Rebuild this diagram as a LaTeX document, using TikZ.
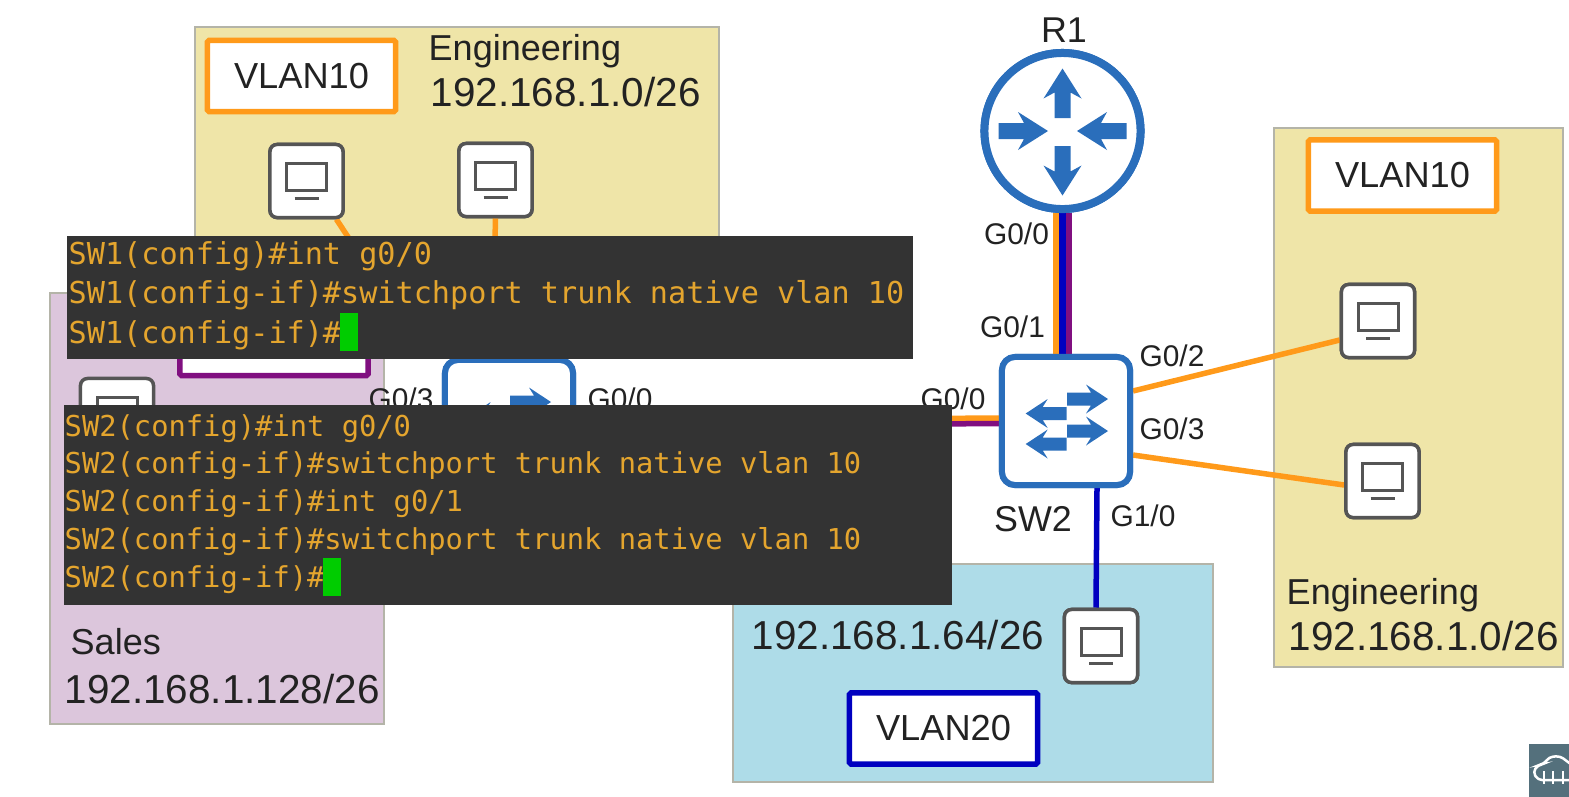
\documentclass[tikz,border=0pt]{standalone}
\usepackage{fontspec}
\setmainfont{Liberation Sans}
\setmonofont{DejaVu Sans Mono}
\definecolor{engyellow}{HTML}{EFE5A8}
\definecolor{salespink}{HTML}{DCC6DC}
\definecolor{devblue}{HTML}{AEDCE8}
\definecolor{zonegray}{HTML}{B4B4A8}
\definecolor{iconblue}{HTML}{2A6EBB}
\definecolor{pcgray}{HTML}{555555}
\definecolor{vorange}{HTML}{FF9A1A}
\definecolor{vpurple}{HTML}{800F80}
\definecolor{vblue}{HTML}{0000C0}
\definecolor{termgray}{HTML}{333333}
\definecolor{termtext}{HTML}{E4A52E}
\definecolor{logogray}{HTML}{54707C}
\definecolor{inktext}{HTML}{222222}
\tikzset{
  zone/.style={draw=zonegray, line width=0.02cm, anchor=north west, inner sep=0pt},
  vlanbox/.style={draw=#1, fill=white, line width=0.055cm, rounded corners=0.015cm, minimum width=1.88cm, minimum height=0.71cm, inner sep=0pt, text=inktext, font=\fontsize{10.3}{12}\selectfont},
  pcbox/.style={draw=pcgray, fill=white, line width=0.035cm, rounded corners=0.07cm, minimum size=0.73cm, inner sep=0pt,
    path picture={
      \draw[pcgray, sharp corners, line width=0.03cm] ([shift={(-20,-18)}]path picture bounding box.center) rectangle ([shift={(20,9)}]path picture bounding box.center);
      \draw[pcgray, sharp corners, line width=0.03cm] ([shift={(-12,17)}]path picture bounding box.center) -- ([shift={(12,17)}]path picture bounding box.center);
    }},
  switchbox/.style={draw=iconblue, fill=white, line width=0.06cm, rounded corners=0.13cm, minimum size=1.28cm, inner sep=0pt},
  routerbox/.style={circle, draw=iconblue, fill=white, line width=0.08cm, minimum size=1.56cm, inner sep=0pt},
  port/.style={text=inktext, inner sep=0pt, font=\fontsize{8.5}{10}\selectfont},
  devname/.style={text=inktext, inner sep=0pt, font=\fontsize{10.2}{12}\selectfont},
  zonename/.style={text=inktext, inner sep=0pt, anchor=base west, font=\fontsize{10.25}{12}\selectfont},
  subnet/.style={text=inktext, inner sep=0pt, anchor=base west, font=\fontsize{11.5}{13}\selectfont},
  term/.style={fill=termgray, anchor=north west, inner sep=0pt},
  termone/.style={text=termtext, inner sep=0pt, anchor=base west, font=\fontsize{8.58}{10}\selectfont\ttfamily},
  termtwo/.style={text=termtext, inner sep=0pt, anchor=base west, font=\fontsize{8.18}{10}\selectfont\ttfamily},
  cursor/.style={fill=green!80!black, inner sep=0pt, minimum width=0.18cm, minimum height=0.38cm},
  link/.style={line width=0.055cm},
  stripe/.style={line width=0.07cm}
}
% arrow along +x from the origin: length, head, notch, wing, shaft
\newcommand{\netarrow}[5]{\fill[iconblue] (0,-#5) -- ({#1-#3},-#5) -- ({#1-#2},-#4) -- (#1,0) -- ({#1-#2},#4) -- ({#1-#3},#5) -- (0,#5) -- cycle;}
% the four arrows of a switch
\newcommand{\switcharrows}[1]{
\foreach \px/\py/\a in {1/-22/0, 1/10/0, 0.7/-7.5/180, 0.7/23/180}
{
  \begin{scope}[shift={(#1.center)}, shift={(\px,\py)}, rotate=\a]
    \netarrow{41}{22}{17}{14.5}{6.5}
  \end{scope}
}
}
\begin{document}
\begin{tikzpicture}[x=0.01cm, y=-0.01cm]
\useasboundingbox (0,0) rectangle (1569,796);

% coloured zones
\node[zone, fill=engyellow, minimum width=5.24cm, minimum height=2.8cm] (zonetop) at (194,25.5) {};
\node[zone, fill=salespink, minimum width=3.34cm, minimum height=4.31cm] (zonesales) at (49,291.5) {};
\node[zone, fill=devblue, minimum width=4.8cm, minimum height=2.18cm] (zonedev) at (732,563) {};
\node[zone, fill=engyellow, minimum width=2.89cm, minimum height=5.39cm] (zoneright) at (1273,127) {};

% devices
\node[routerbox] (r1) at (1062.5,131) {};
\node[switchbox] (sw2) at (1066,421) {};
\node[switchbox] (sw1) at (509,424) {};
\node[pcbox] (pc1) at (306.5,181) {};
\node[pcbox] (pc2) at (495.5,180) {};
\node[pcbox] (pc3) at (117,415) {};
\node[pcbox] (pc4) at (1378,321) {};
\node[pcbox] (pc5) at (1382.5,481) {};
\node[pcbox] (pc6) at (1101,646) {};
\coordinate (pc1end) at (350,240);
\coordinate (pc2end) at (495,240);

% connectors
\draw[stripe, vorange] ([xshift=-0.065cm]r1.south) -- ([xshift=-0.065cm]r1.south |- sw2.north);
\draw[stripe, vpurple] ([xshift=0.06cm]r1.south) -- ([xshift=0.06cm]r1.south |- sw2.north);
\draw[stripe, vblue] (r1.south) -- (r1.south |- sw2.north);
\draw[link, vorange] ([yshift=0.03cm]sw1.east) -- ([yshift=0.03cm]sw2.west);
\draw[link, vpurple] ([yshift=-0.025cm]sw1.east) -- ([yshift=-0.025cm]sw2.west);
\draw[link, vorange] ([yshift=0.30cm]sw2.east) -- ([yshift=-0.19cm]pc4.west);
\draw[link, vorange] ([yshift=-0.34cm]sw2.east) -- ([yshift=-0.04cm]pc5.west);
\draw[link, vblue] ([xshift=0.31cm]sw2.south) -- ([xshift=-0.05cm]pc6.north);
\draw[link, vorange] (pc1.-52) -- (pc1end);
\draw[link, vorange] (pc2.south) -- (pc2end);

% icons on top of the connectors
\node[routerbox] (r1top) at (r1.center) {};
\foreach \a/\b in {90/13, 270/15, 0/-64, 180/-64}
{
  \begin{scope}[shift={(r1.center)}, rotate=\a, shift={(\b,0)}]
    \netarrow{49.5}{30}{24}{19}{8}
  \end{scope}
}
\node[switchbox] (sw2top) at (sw2.center) {};
\node[switchbox] (sw1top) at (sw1.center) {};
\switcharrows{sw2}
\switcharrows{sw1}
\node[pcbox] at (pc1.center) {};
\node[pcbox] at (pc2.center) {};
\node[pcbox] at (pc4.center) {};
\node[pcbox] at (pc5.center) {};
\node[pcbox] at (pc6.center) {};

% vlan boxes
\node[vlanbox=vorange] (vlantop) at (301.5,76) {VLAN10};
\node[vlanbox=vorange] (vlanright) at (1402.5,175.5) {VLAN10};
\node[vlanbox=vblue] (vlandev) at (943.5,728.5) {VLAN20};
\node[vlanbox=vpurple] (vlansales) at (274,340) {};

% zone texts
\node[zonename] (engtop) at (428,60) {Engineering};
\node[subnet] (nettop) at (430,106) {192.168.1.0/26};
\node[zonename] (engright) at (1286,604) {Engineering};
\node[subnet] (netright) at (1288,650) {192.168.1.0/26};
\node[zonename] (salesname) at (70,654) {Sales};
\node[subnet] (netsales) at (64,703) {192.168.1.128/26};
\node[subnet] (netdev) at (751,649) {192.168.1.64/26};

% device and port names
\node[devname] (r1name) at (1064,30) {R1};
\node[devname] (sw2name) at (1033,519) {SW2};
\node[port] (r1g00) at (1016.5,233.5) {G0/0};
\node[port] (sw2g01) at (1012.5,326.5) {G0/1};
\node[port] (sw2g02) at (1172,355.5) {G0/2};
\node[port] (sw2g03) at (1172,428.5) {G0/3};
\node[port] (sw2g10) at (1143,515.5) {G1/0};
\node[port] (sw2g00) at (953,399) {G0/0};
\node[port] (sw1g03) at (401,399) {G0/3};
\node[port] (sw1g00) at (620,399) {G0/0};

% terminal windows
\node[term, minimum width=8.46cm, minimum height=1.23cm] (termsw1) at (66,235) {};
\node[termone] (lineA) at (68,264) {SW1(config)\#int g0/0};
\node[termone] (lineB) at (68,303) {SW1(config-if)\#switchport trunk native vlan 10};
\node[termone] (lineC) at (68,343) {SW1(config-if)\#};
\node[cursor] (cursorA) at (349,331.5) {};
\node[term, minimum width=8.88cm, minimum height=2cm] (termsw2) at (63,404) {};
\node[termtwo] (lineD) at (64,436) {SW2(config)\#int g0/0};
\node[termtwo] (lineE) at (64,473) {SW2(config-if)\#switchport trunk native vlan 10};
\node[termtwo] (lineF) at (64,511) {SW2(config-if)\#int g0/1};
\node[termtwo] (lineG) at (64,549) {SW2(config-if)\#switchport trunk native vlan 10};
\node[termtwo] (lineH) at (64,587) {SW2(config-if)\#};
\node[cursor] (cursorB) at (332,576.5) {};

% logo corner
\node[fill=logogray, anchor=north west, inner sep=0pt, minimum width=0.41cm, minimum height=0.53cm] (logo) at (1528,743) {};
\begin{scope}
\clip (1528,743) rectangle (1569,796);
\draw[white, line width=0.025cm, rounded corners=0.04cm] (1538,780) -- (1533,772) -- (1538,765) -- (1544,764) -- (1549,757) -- (1560,756) -- (1568,762) -- (1576,768) -- (1576,780) -- cycle;
\foreach \cx in {1544,1553,1563}
\draw[white, line width=0.02cm] (\cx,771) -- (\cx,784);
\end{scope}
\end{tikzpicture}
\end{document}
